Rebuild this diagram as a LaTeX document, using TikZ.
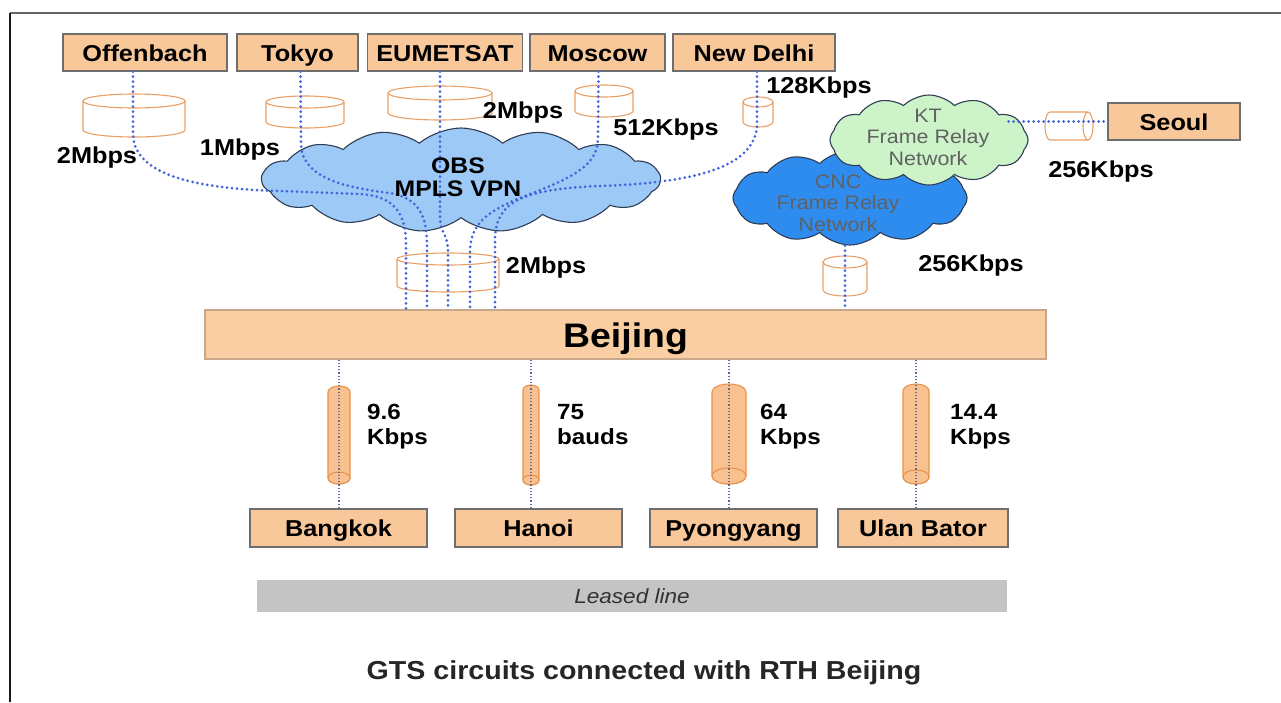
\documentclass[tikz,border=0pt]{standalone}
\usepackage{fontspec}
\setmainfont{Liberation Sans}[FakeStretch=1.1]
\usetikzlibrary{shapes.symbols}

\definecolor{boxfill}{HTML}{F9C89A}
\definecolor{boxline}{HTML}{6E6E6E}
\definecolor{bjfill}{HTML}{F9CEA2}
\definecolor{bjline}{HTML}{C9A78A}
\definecolor{pipeline}{HTML}{E9A066}
\definecolor{pipefill}{HTML}{F9C190}
\definecolor{pipeedge}{HTML}{E8934C}
\definecolor{linkblue}{HTML}{4363DC}
\definecolor{obsblue}{HTML}{9CC9F6}
\definecolor{cncblue}{HTML}{2F8CEF}
\definecolor{ktgreen}{HTML}{CDF4C8}
\definecolor{cloudedge}{HTML}{2E3D55}
\definecolor{barfill}{HTML}{C4C4C4}

\newcommand{\boxfont}{\fontsize{23}{26}\selectfont\bfseries}
\newcommand{\ratefont}{\fontsize{23}{25}\selectfont\bfseries}
\newcommand{\cloudfont}{\fontsize{19.5}{21.5}\selectfont}

% short wide cylinder with a vertical axis, open look
\newcommand{\topcyl}[5]{%
  \filldraw[cylpipe] ({#1-#4},#2) -- ({#1-#4},#3)
    arc[start angle=180,end angle=0,x radius=#4,y radius=#5] -- ({#1+#4},#2);
  \draw[cylpipe] (#1,#2) ellipse[x radius=#4,y radius=#5];
}
% slim filled cylinder seen slightly from below
\newcommand{\lowcyl}[5]{%
  \filldraw[lowpipe] ({#1-#4},#3) -- ({#1-#4},#2)
    arc[start angle=180,end angle=360,x radius=#4,y radius=#5]
    -- ({#1+#4},#3)
    arc[start angle=0,end angle=180,x radius=#4,y radius=#5] -- cycle;
  \draw[lowpipe] (#1,#3) ellipse[x radius=#4,y radius=#5];
}

\begin{document}
\begin{tikzpicture}[x=1pt,y=-1pt,
  city/.style={draw=boxline,line width=1.3pt,fill=boxfill,inner sep=0pt,
    minimum height=37pt,text height=20pt,text depth=3pt,font=\boxfont},
  rate/.style={inner sep=0pt,font=\ratefont,align=left},
  cylpipe/.style={draw=pipeline,line width=1.1pt,fill=white},
  lowpipe/.style={draw=pipeedge,line width=1.1pt,fill=pipefill},
  link/.style={draw=linkblue,line width=3pt,line cap=round,
    dash pattern=on 0pt off 5pt},
  tail/.style={draw=gray!80!blue,line width=1.2pt,dotted},
  netcloud/.style={cloud,draw=cloudedge,line width=1.1pt,inner sep=0pt}]

\useasboundingbox (0,0) rectangle (1281,702);
\fill[white] (0,0) rectangle (1281,702);

% frame
\draw[line width=2pt,color=black!60] (10,13) -- (1281,13);
\draw[line width=2.4pt,color=black!90] (10,13) -- (10,702);

% stations
\node[city,minimum width=164pt] (off) at (145,52.5) {Offenbach};
\node[city,minimum width=121pt] (tok) at (297.5,52.5) {Tokyo};
\node[city,minimum width=155pt] (eum) at (445,52.5) {EUMETSAT};
\node[city,minimum width=135pt] (mos) at (597.5,52.5) {Moscow};
\node[city,minimum width=162pt] (ndl) at (754,52.5) {New Delhi};
\node[city,minimum width=132pt] (seo) at (1174,121.5) {Seoul};
\node[draw=bjline,fill=bjfill,line width=1.3pt,inner sep=0pt,
  minimum width=841pt,minimum height=49pt,text height=29pt,text depth=4pt,
  font=\fontsize{34}{38}\selectfont\bfseries] (bj) at (625.5,334.5) {Beijing};
\node[city,minimum width=177pt,minimum height=38pt] (bkk) at (338.5,528) {Bangkok};
\node[city,minimum width=167pt,minimum height=38pt] (han) at (538.5,528) {Hanoi};
\node[city,minimum width=167pt,minimum height=38pt] (pyo) at (733.5,528) {Pyongyang};
\node[city,minimum width=170pt,minimum height=38pt] (ulb) at (923,528) {Ulan Bator};

% networks
\node[netcloud,fill=obsblue,cloud puffs=15,cloud puff arc=80,aspect=3.8,
  minimum width=398pt,minimum height=104pt] (obs) at (461,180) {};
\node[netcloud,fill=cncblue,cloud puffs=12,cloud puff arc=90,aspect=2.5,
  minimum width=234pt,minimum height=94pt] (cnc) at (850,198) {};
\node[netcloud,fill=ktgreen,cloud puffs=12,cloud puff arc=90,aspect=2.2,
  minimum width=198pt,minimum height=90pt] (kt) at (929,140) {};

% circuit cylinders
\topcyl{134}{101}{130}{51}{7}
\topcyl{305}{102}{122}{39}{6}
\topcyl{440}{93}{113}{52}{7}
\topcyl{604}{91}{111}{29}{6}
\topcyl{758}{102}{122}{15}{5}
\topcyl{448}{259}{286}{51}{6}
\topcyl{845}{262}{290}{22}{6}
\filldraw[cylpipe] (1088,112) -- (1050,112)
  arc[start angle=270,end angle=90,x radius=5,y radius=14] -- (1088,140);
\draw[cylpipe] (1088,126) ellipse[x radius=5,y radius=14];

\lowcyl{339}{392}{478}{11}{6}
\lowcyl{531}{390}{480}{8}{5}
\lowcyl{729}{392}{476}{17}{8}
\lowcyl{916}{391}{477}{13}{7}

% entry points on the Beijing box
\coordinate (a1) at (406,0);
\coordinate (a2) at (427,0);
\coordinate (a3) at (448,0);
\coordinate (a4) at (470,0);
\coordinate (a5) at (495,0);
\coordinate (a6) at (845,0);
\coordinate (b1) at (339,0);
\coordinate (b2) at (531,0);
\coordinate (b3) at (729,0);
\coordinate (b4) at (916,0);

% circuits through the MPLS cloud
\draw[link] ([xshift=-12pt]off.south) -- (133,135)
  .. controls (135,178) and (205,189) .. (280,191) -- (360,194)
  .. controls (396,196) and (406,215) .. (406,245) -- (bj.north -| a1);
\draw[link] ([xshift=3pt]tok.south) -- (301,145)
  .. controls (303,180) and (350,188) .. (390,193)
  .. controls (418,198) and (427,215) .. (427,245) -- (bj.north -| a2);
\draw[link] ([xshift=-5pt]eum.south) -- (440,215)
  .. controls (440,235) and (448,232) .. (448,252) -- (bj.north -| a3);
\draw[link] ([xshift=1pt]mos.south) -- (598,140)
  .. controls (597,170) and (560,182) .. (520,198)
  .. controls (485,212) and (470,226) .. (470,252) -- (bj.north -| a4);
\draw[link] ([xshift=3pt]ndl.south) -- (757,125)
  .. controls (755,172) and (680,183) .. (600,186)
  .. controls (522,189) and (495,202) .. (495,240) -- (bj.north -| a5);
\draw[link] (cnc.south -| a6) -- (bj.north -| a6);
\draw[link] ([xshift=-20pt]kt.east |- seo.west) -- (seo.west);

% leased lines
\draw[tail] (bj.south -| b1) -- (bkk.north -| b1);
\draw[tail] (bj.south -| b2) -- (han.north -| b2);
\draw[tail] (bj.south -| b3) -- (pyo.north -| b3);
\draw[tail] (bj.south -| b4) -- (ulb.north -| b4);

% network names
\node[font=\fontsize{22.5}{23}\selectfont\bfseries,align=center,inner sep=0pt]
  (obst) at (458,177) {OBS\\MPLS VPN};
\node[font=\cloudfont,align=center,inner sep=0pt,text=black!62]
  (cnct) at (838,203) {CNC\\Frame Relay\\Network};
\node[font=\cloudfont,align=center,inner sep=0pt,text=black!62]
  (ktt) at (928,137) {KT\\Frame Relay\\Network};

% line speeds
\node[rate] (r1) at (97,158) {2Mbps};
\node[rate] (r2) at (240,150) {1Mbps};
\node[rate] (r3) at (523,113) {2Mbps};
\node[rate] (r4) at (666,130) {512Kbps};
\node[rate] (r5) at (819,88) {128Kbps};
\node[rate] (r6) at (1101,172) {256Kbps};
\node[rate] (r7) at (546,268) {2Mbps};
\node[rate] (r8) at (971,266) {256Kbps};
\node[rate,anchor=north west,font=\fontsize{22}{25}\selectfont\bfseries] (r9) at (367,404) {9.6\\Kbps};
\node[rate,anchor=north west,font=\fontsize{22}{25}\selectfont\bfseries] (r10) at (557,404) {75\\bauds};
\node[rate,anchor=north west,font=\fontsize{22}{25}\selectfont\bfseries] (r11) at (760,404) {64\\Kbps};
\node[rate,anchor=north west,font=\fontsize{22}{25}\selectfont\bfseries] (r12) at (950,404) {14.4\\Kbps};

% legend bar and caption
\node[fill=barfill,inner sep=0pt,minimum width=750pt,minimum height=32pt,
  font=\fontsize{20.5}{21}\selectfont\itshape,text=black!80] (lease) at (632,596) {Leased line};
\node[font=\fontsize{26}{28}\selectfont\bfseries,inner sep=0pt,text=black!85]
  (cap) at (644,673) {GTS circuits connected with RTH Beijing};
\end{tikzpicture}
\end{document}
